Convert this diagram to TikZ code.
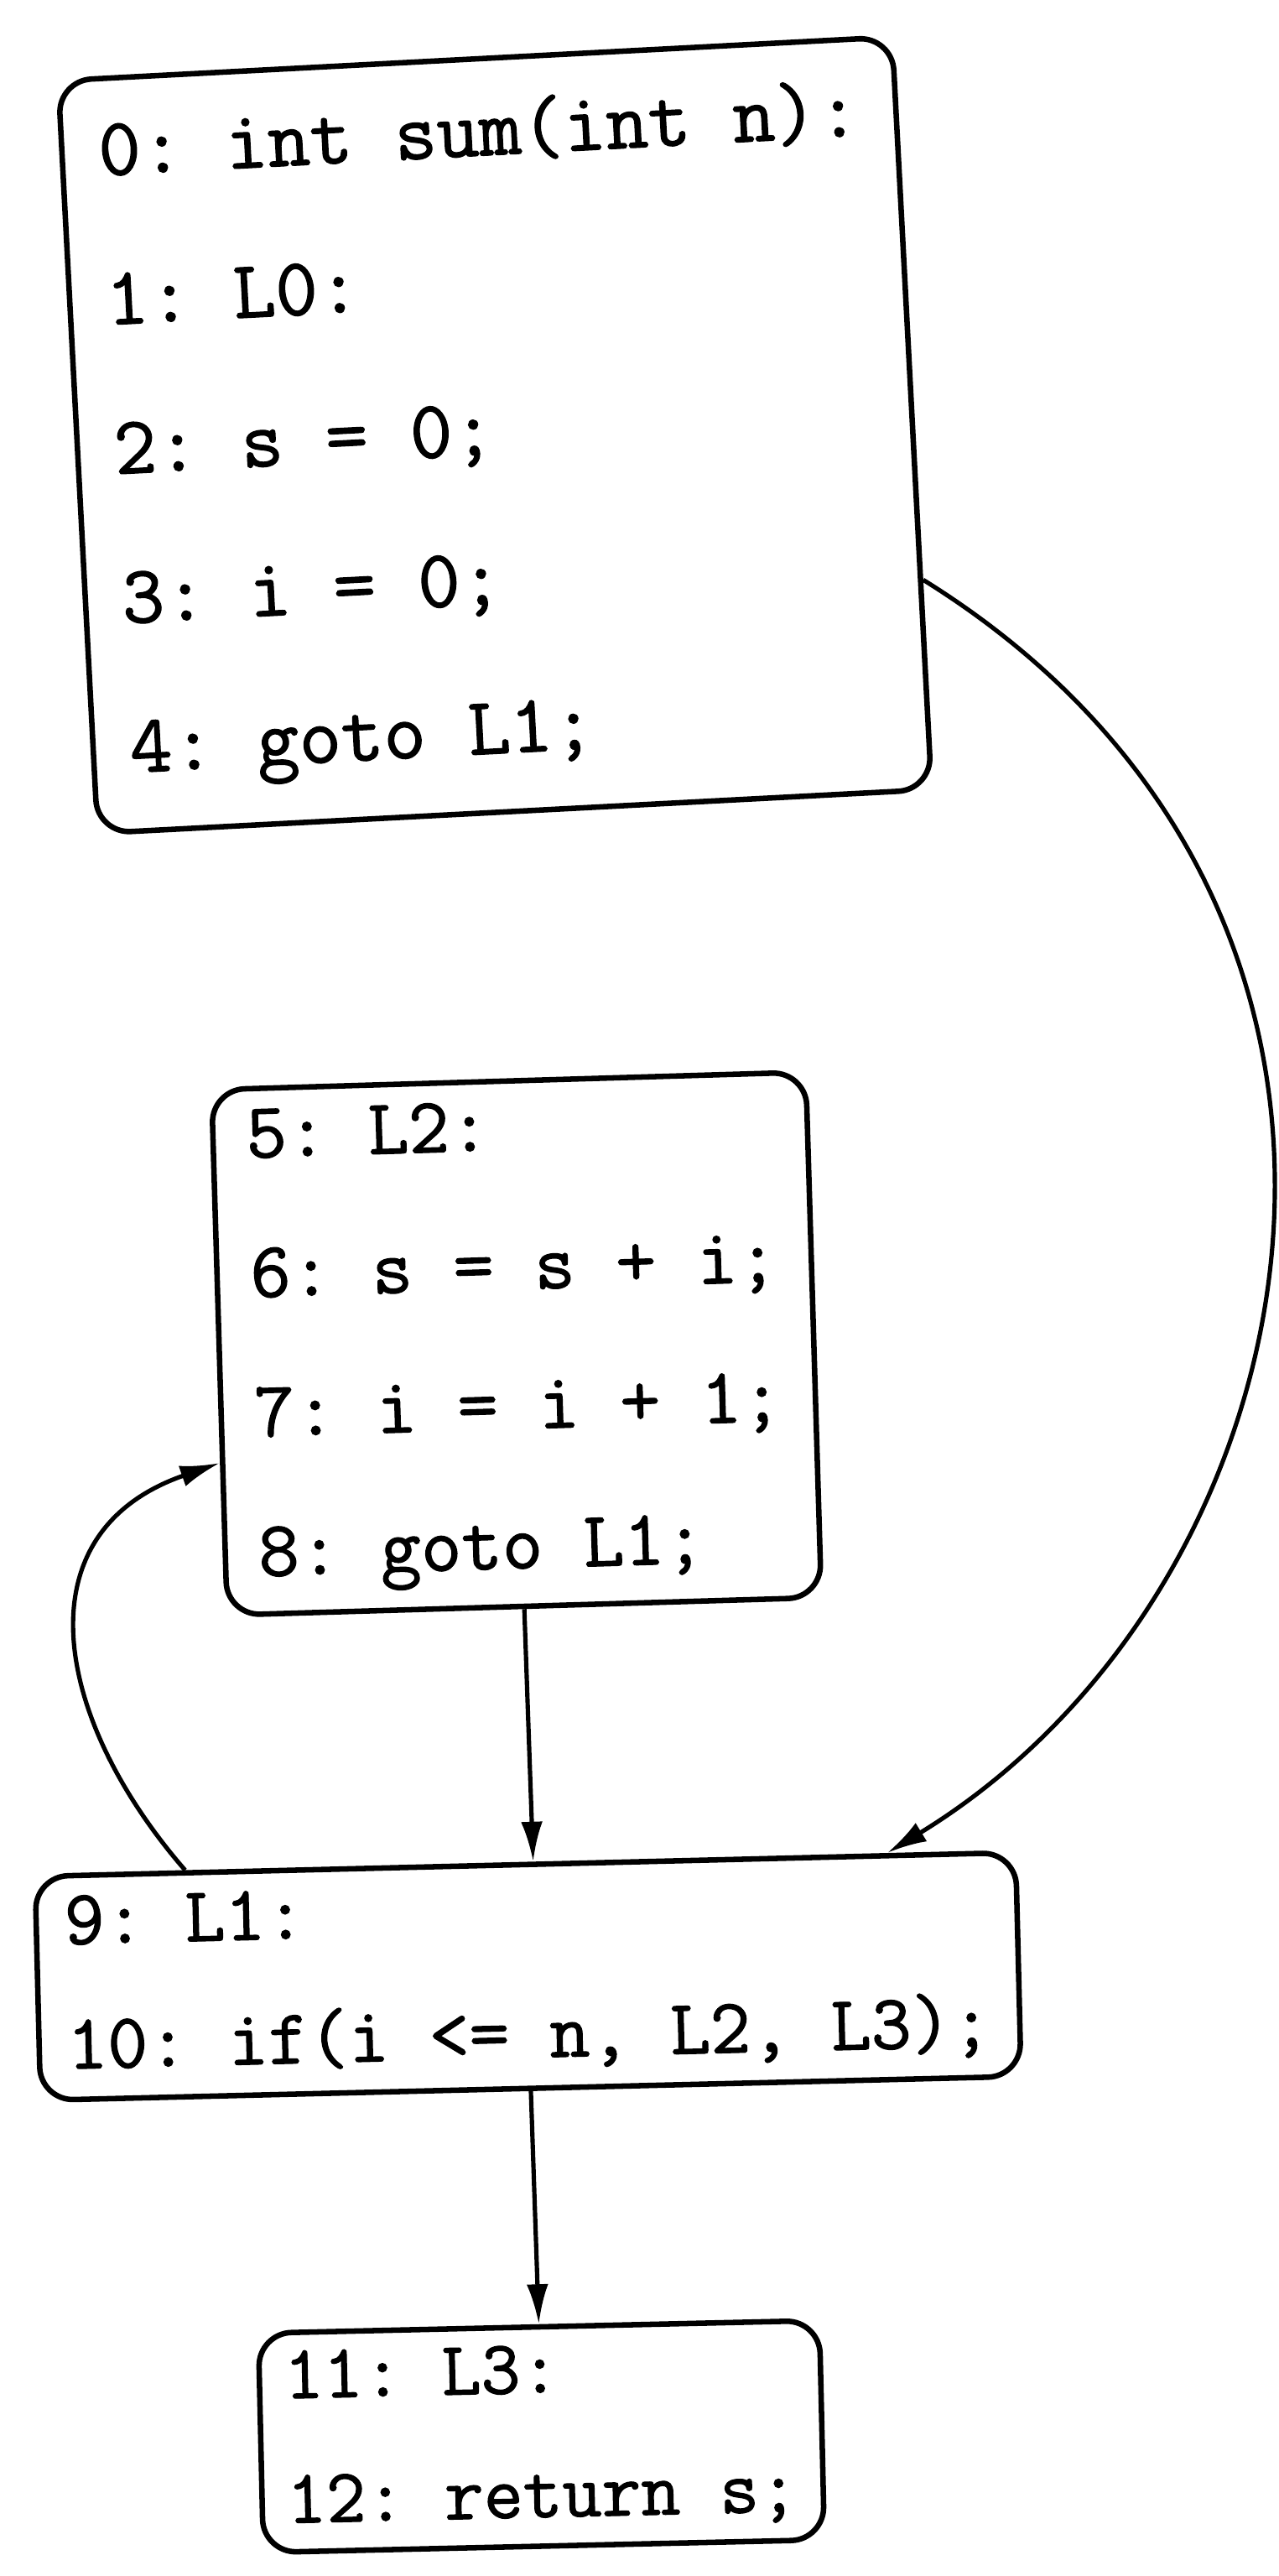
\documentclass[tikz,border=0pt]{standalone}
\usepackage{fontspec}
\newfontfamily\codefont{Latin Modern Mono}[FakeBold=1.3]
\usetikzlibrary{arrows.meta,calc}
\tikzset{
  blk/.style={draw=black, line width=3.3pt, rounded corners=20pt, align=left, anchor=center, fill=white},
  edge/.style={draw=black, line width=2.6pt, -{Latex[length=24pt,width=13pt]}}
}
\begin{document}
\frenchspacing
\begin{tikzpicture}[x=1pt,y=-1pt]
\useasboundingbox (0,0) rectangle (770,1551);
\node[blk, rotate=3, inner xsep=22pt, inner ysep=24pt,
      font={\fontsize{49.5}{90}\selectfont\codefont\frenchspacing}] (b1) at (298,262)
  {0: int sum(int n):\\1: L0:\\2: s = 0;\\3: i = 0;\\4: goto L1;};
\node[blk, rotate=1.7, inner xsep=20pt, inner ysep=12pt,
      font={\fontsize{47.5}{84}\selectfont\codefont\frenchspacing}] (b2) at (311,809)
  {5: L2:\\6: s = s + i;\\7: i = i + 1;\\8: goto L1;};
\node[blk, rotate=1.4, inner xsep=17pt, inner ysep=12pt,
      font={\fontsize{47}{75}\selectfont\codefont\frenchspacing}] (b3) at (318,1190)
  {9: L1:\\10: if(i <= n, L2, L3);};
\node[blk, rotate=1.3, inner xsep=15pt, inner ysep=11pt,
      font={\fontsize{46}{75}\selectfont\codefont\frenchspacing}] (b4) at (326,1467)
  {11: L3:\\12: return s;};
\coordinate (s1) at ($(b1.north east)!0.72!(b1.south east)$);
\coordinate (e1) at ($(b3.north west)!0.867!(b3.north east)$);
\coordinate (s3) at ($(b3.north west)!0.155!(b3.north east)$);
\coordinate (e3) at ($(b2.north west)!0.708!(b2.south west)$);
\coordinate (e2) at ($(b3.north west)!0.508!(b3.north east)$);
\draw[edge] (s1) .. controls ($(s1)+(322,200)$) and ($(e1)+(262,-160)$) .. (e1);
\draw[edge] (b2.south) -- (e2);
\draw[edge] (s3) .. controls ($(s3)+(-79,-91)$) and ($(e3)+(-121,42)$) .. (e3);
\draw[edge] (b3.south) -- (b4.north);
\end{tikzpicture}
\end{document}
